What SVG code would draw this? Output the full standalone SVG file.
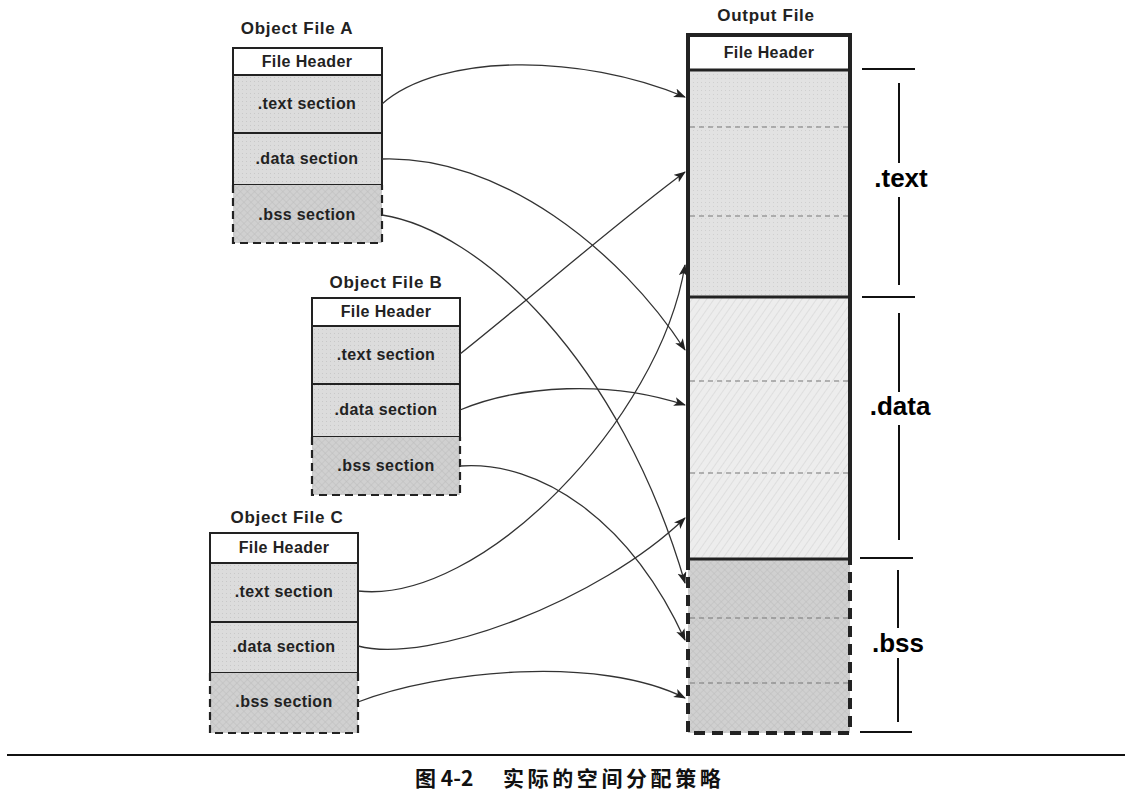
<svg xmlns="http://www.w3.org/2000/svg" width="1135" height="802" viewBox="0 0 1135 802">
<style>
.t{font-family:"Liberation Sans",Arial,sans-serif;font-weight:bold;fill:#222;text-anchor:middle}
.title{font-size:17px;letter-spacing:0.7px}
.lbl{font-size:16px;letter-spacing:0.4px}
.big{font-family:"Liberation Sans",Arial,sans-serif;font-weight:bold;font-size:26px;fill:#000;text-anchor:middle}
.box{stroke:#222;stroke-width:2}
.bssb{fill:none;stroke:#222;stroke-width:2.2;stroke-dasharray:8 5}
.sep{stroke:#777;stroke-width:1.2;stroke-dasharray:5 4}
.conn{fill:none;stroke:#333;stroke-width:1.3}
.brk{stroke:#111;stroke-width:2}
</style>
<defs>
<pattern id="pText" width="4" height="4" patternUnits="userSpaceOnUse"><rect width="4" height="4" fill="#e2e2e2"/><rect x="1" y="2" width="1" height="1" fill="#cfcfcf"/></pattern>
<pattern id="pSec" width="4" height="4" patternUnits="userSpaceOnUse"><rect width="4" height="4" fill="#dcdcdc"/><rect x="2" y="1" width="1" height="1" fill="#c8c8c8"/></pattern>
<pattern id="pData" width="6" height="6" patternUnits="userSpaceOnUse" patternTransform="rotate(35)"><rect width="6" height="6" fill="#ededed"/><line x1="0" y1="0" x2="0" y2="6" stroke="#dadada" stroke-width="1.5"/></pattern>
<pattern id="pBss" width="5" height="5" patternUnits="userSpaceOnUse" patternTransform="rotate(45)"><rect width="5" height="5" fill="#d0d0d0"/><line x1="0" y1="0" x2="0" y2="5" stroke="#bdbdbd" stroke-width="1"/><line x1="0" y1="0" x2="5" y2="0" stroke="#bdbdbd" stroke-width="1"/></pattern>
<marker id="arr" markerWidth="12" markerHeight="10" refX="11" refY="4.5" orient="auto" markerUnits="userSpaceOnUse"><path d="M0,0 L12,4.5 L0,9 L3,4.5 Z" fill="#222"/></marker>
</defs>
<rect width="1135" height="802" fill="#fff"/>

<g id="objA">
<text class="t title" x="297" y="34">Object File A</text>
<rect class="box" x="233" y="48" width="149" height="27" fill="#fff"/>
<text class="t lbl" x="307" y="67">File Header</text>
<rect class="box" x="233" y="75" width="149" height="58" fill="url(#pSec)"/>
<text class="t lbl" x="307" y="109">.text section</text>
<rect class="box" x="233" y="133" width="149" height="52" fill="url(#pSec)"/>
<text class="t lbl" x="307" y="164">.data section</text>
<rect x="233" y="185" width="149" height="58" fill="url(#pBss)"/>
<path class="bssb" d="M233,185 V243 H382 V185"/>
<text class="t lbl" x="307" y="220">.bss section</text>
</g>

<g id="objB">
<text class="t title" x="386" y="288">Object File B</text>
<rect class="box" x="312" y="298" width="148" height="28" fill="#fff"/>
<text class="t lbl" x="386" y="317">File Header</text>
<rect class="box" x="312" y="326" width="148" height="58" fill="url(#pSec)"/>
<text class="t lbl" x="386" y="360">.text section</text>
<rect class="box" x="312" y="384" width="148" height="53" fill="url(#pSec)"/>
<text class="t lbl" x="386" y="415">.data section</text>
<rect x="312" y="437" width="148" height="58" fill="url(#pBss)"/>
<path class="bssb" d="M312,437 V495 H460 V437"/>
<text class="t lbl" x="386" y="471">.bss section</text>
</g>

<g id="objC">
<text class="t title" x="287" y="523">Object File C</text>
<rect class="box" x="210" y="533" width="148" height="30" fill="#fff"/>
<text class="t lbl" x="284" y="553">File Header</text>
<rect class="box" x="210" y="563" width="148" height="59" fill="url(#pSec)"/>
<text class="t lbl" x="284" y="597">.text section</text>
<rect class="box" x="210" y="622" width="148" height="51" fill="url(#pSec)"/>
<text class="t lbl" x="284" y="652">.data section</text>
<rect x="210" y="673" width="148" height="60" fill="url(#pBss)"/>
<path class="bssb" d="M210,673 V733 H358 V673"/>
<text class="t lbl" x="284" y="707">.bss section</text>
</g>

<g id="output">
<text class="t title" x="766" y="21">Output File</text>
<rect x="688" y="35" width="162" height="35" fill="#fff"/>
<rect x="688" y="70" width="162" height="227" fill="url(#pText)"/>
<rect x="688" y="297" width="162" height="262" fill="url(#pData)"/>
<rect x="688" y="559" width="162" height="174" fill="url(#pBss)"/>
<line class="sep" x1="690" y1="127" x2="848" y2="127"/>
<line class="sep" x1="690" y1="216" x2="848" y2="216"/>
<line class="sep" x1="690" y1="381" x2="848" y2="381"/>
<line class="sep" x1="690" y1="473" x2="848" y2="473"/>
<line class="sep" x1="690" y1="618" x2="848" y2="618"/>
<line class="sep" x1="690" y1="683" x2="848" y2="683"/>
<path d="M688,559 V35 H850 V559" fill="none" stroke="#222" stroke-width="4"/>
<line x1="688" y1="70" x2="850" y2="70" stroke="#222" stroke-width="3"/>
<line x1="688" y1="297" x2="850" y2="297" stroke="#222" stroke-width="3"/>
<line x1="688" y1="559" x2="850" y2="559" stroke="#222" stroke-width="3"/>
<path d="M688,559 V733 H850 V559" fill="none" stroke="#222" stroke-width="4" stroke-dasharray="11 7"/>
<text class="t lbl" x="769" y="58">File Header</text>
</g>

<g id="brackets">
<line class="brk" x1="862" y1="69" x2="915" y2="69"/>
<line class="brk" x1="862" y1="297" x2="915" y2="297"/>
<line class="brk" x1="860" y1="558" x2="913" y2="558"/>
<line class="brk" x1="860" y1="732" x2="912" y2="732"/>
<line class="brk" x1="899" y1="83" x2="899" y2="163"/>
<line class="brk" x1="899" y1="197" x2="899" y2="285"/>
<line class="brk" x1="899" y1="313" x2="899" y2="392"/>
<line class="brk" x1="899" y1="425" x2="899" y2="540"/>
<line class="brk" x1="898" y1="570" x2="898" y2="628"/>
<line class="brk" x1="898" y1="658" x2="898" y2="722"/>
<text class="big" x="901" y="187">.text</text>
<text class="big" x="900" y="415">.data</text>
<text class="big" x="898" y="652">.bss</text>
</g>

<g id="connectors">
<path class="conn" marker-end="url(#arr)" d="M382,104 C440,53 580,53 685,97"/>
<path class="conn" marker-end="url(#arr)" d="M382,159 C500,155 620,250 685,350"/>
<path class="conn" marker-end="url(#arr)" d="M382,215 C480,230 620,360 685,583"/>
<path class="conn" marker-end="url(#arr)" d="M460,354 C540,290 620,220 685,172"/>
<path class="conn" marker-end="url(#arr)" d="M460,410 C520,385 610,380 685,405"/>
<path class="conn" marker-end="url(#arr)" d="M460,466 C540,460 630,520 685,640"/>
<path class="conn" marker-end="url(#arr)" d="M358,591 C480,605 660,420 685,265"/>
<path class="conn" marker-end="url(#arr)" d="M358,646 C430,665 600,600 685,518"/>
<path class="conn" marker-end="url(#arr)" d="M358,702 C440,670 600,655 685,698"/>
</g>

<g id="caption">
<line x1="7" y1="755" x2="1125" y2="755" stroke="#111" stroke-width="2.2"/>
<text x="415" y="786" font-family="'Noto Sans CJK SC','Liberation Sans',sans-serif" font-weight="bold" font-size="21" fill="#111"><tspan x="415">图 4-2</tspan><tspan x="503" letter-spacing="3.6">实际的空间分配策略</tspan></text>
</g>
</svg>
